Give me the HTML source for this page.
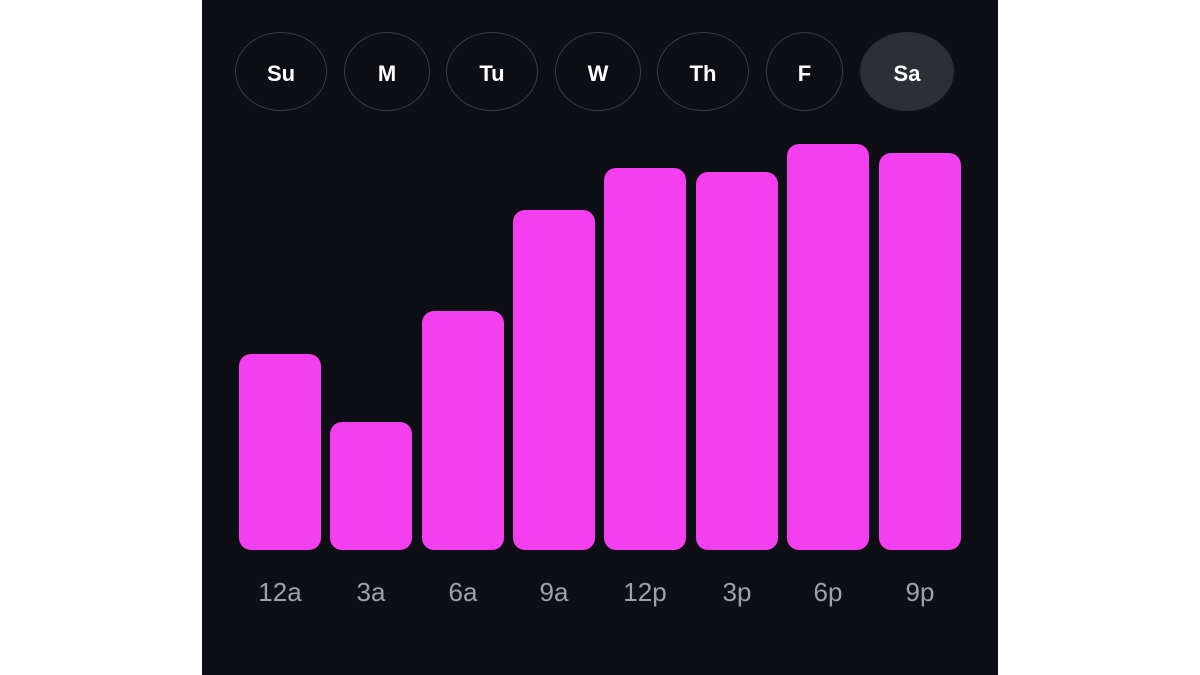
<!DOCTYPE html>
<html><head><style>
body{margin:0;width:1200px;height:675px;background:#fff;position:relative;overflow:hidden;font-family:"Liberation Sans",sans-serif}
#p{position:absolute;left:202px;top:0;width:796px;height:675px;background:#0d0f14}
.pill{position:absolute;top:32px;height:79px;padding-top:4px;border:1.5px solid #3a3d42;border-radius:50%;box-sizing:border-box;color:#fff;font-weight:bold;font-size:22px;display:flex;align-items:center;justify-content:center}
.bar{position:absolute;background:#f43ff0;border-radius:12px;bottom:125px;width:82px}
.lb{position:absolute;top:577px;width:82px;text-align:center;color:#9ea2a7;font-size:26px}
</style></head><body>
<div id="p"></div>
<div class="pill" style="left:235px;width:92px">Su</div>
<div class="pill" style="left:344px;width:86px">M</div>
<div class="pill" style="left:446px;width:92px">Tu</div>
<div class="pill" style="left:555px;width:86px">W</div>
<div class="pill" style="left:657px;width:92px">Th</div>
<div class="pill" style="left:766px;width:77px">F</div>
<div class="pill" style="left:860px;width:94px;background:#2c2f34;border-color:#2c2f34">Sa</div>
<div class="bar" style="left:239px;top:354px"></div>
<div class="bar" style="left:330px;top:422px"></div>
<div class="bar" style="left:422px;top:311px"></div>
<div class="bar" style="left:513px;top:210px"></div>
<div class="bar" style="left:604px;top:168px"></div>
<div class="bar" style="left:696px;top:172px"></div>
<div class="bar" style="left:787px;top:144px"></div>
<div class="bar" style="left:879px;top:153px"></div>
<div class="lb" style="left:239px">12a</div>
<div class="lb" style="left:330px">3a</div>
<div class="lb" style="left:422px">6a</div>
<div class="lb" style="left:513px">9a</div>
<div class="lb" style="left:604px">12p</div>
<div class="lb" style="left:696px">3p</div>
<div class="lb" style="left:787px">6p</div>
<div class="lb" style="left:879px">9p</div>
</body></html>
